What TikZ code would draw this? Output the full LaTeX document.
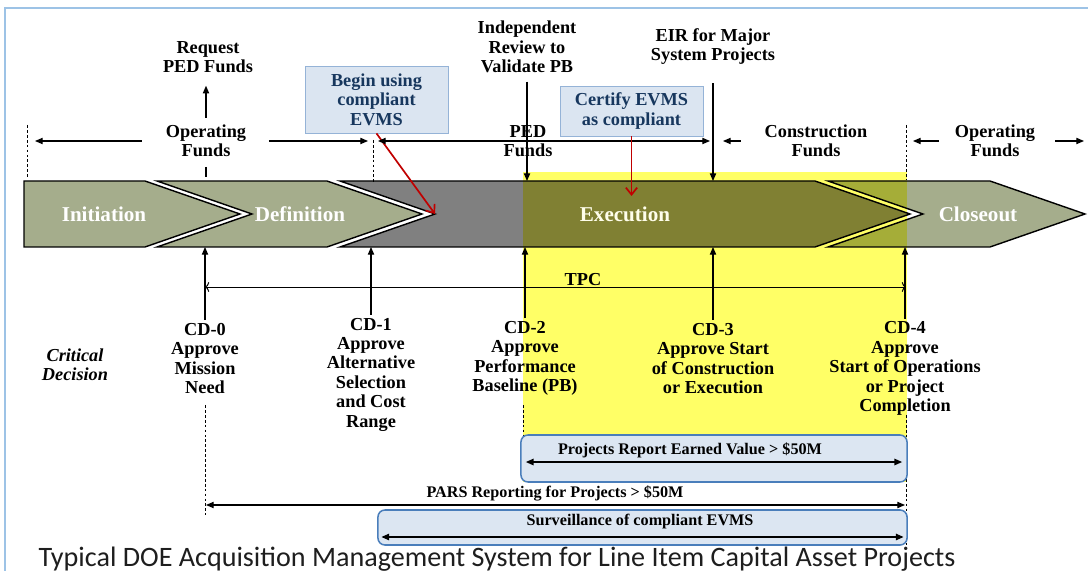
\documentclass[tikz,border=0pt]{standalone}
\usepackage{fontspec}
\setmainfont{Liberation Serif}
\newfontfamily\capfont{Carlito}
\usepackage{tikz}
\usetikzlibrary{arrows.meta,positioning,calc}
\usepackage{xcolor}
\definecolor{phasegreen}{RGB}{165,173,140}
\definecolor{phasegray}{RGB}{128,128,128}
\definecolor{cdyellow}{RGB}{255,255,102}
\definecolor{notefill}{RGB}{219,229,241}
\definecolor{notedraw}{RGB}{149,179,215}
\definecolor{notetext}{RGB}{23,55,94}
\definecolor{barfill}{RGB}{220,230,242}
\definecolor{bardraw}{RGB}{74,126,187}
\definecolor{evmsred}{RGB}{192,0,0}
\definecolor{framecol}{RGB}{157,195,230}
\definecolor{capgray}{RGB}{30,30,30}
\tikzset{
  phase/.style={draw=black,line width=1pt,line join=miter},
  phaselbl/.style={text=white,font=\bfseries\fontsize{15}{18}\selectfont},
  lbl/.style={font=\bfseries\fontsize{13}{13.8}\selectfont,align=center,inner sep=1pt},
  note/.style={rectangle,draw=notedraw,line width=0.6pt,fill=notefill,text=notetext,
    font=\bfseries\fontsize{13}{13.8}\selectfont,align=center,minimum width=3.575cm},
  evbar/.style={rectangle,rounded corners=5pt,draw=bardraw,line width=1.1pt,fill=barfill},
  barlbl/.style={font=\bfseries\fontsize{11.5}{13}\selectfont,inner sep=1pt},
  arrow/.style={->,>={Triangle[length=5.5pt,width=4.5pt]},line width=0.8pt},
  dblarrow/.style={<->,>={Triangle[length=5.5pt,width=4.5pt]},line width=0.8pt},
  tpcline/.style={<->,>={To[length=3pt,width=7pt]},line width=0.7pt},
  redarrow/.style={->,>={Straight Barb[length=5pt,width=8pt]},draw=evmsred,line width=1.2pt},
  guideline/.style={dash pattern=on 2pt off 1.5pt,line width=0.6pt}
}

\begin{document}
\begin{tikzpicture}[x=0.025cm,y=-0.025cm]
  \useasboundingbox (0,0) rectangle (1088,571);
  \clip (0,0) rectangle (1088,571);
  \draw[framecol,line width=1pt] (5,600) |- (1100,8);

  % the phase band
  \coordinate (bandtop) at (0,181);
  \coordinate (bandbot) at (0,247);
  \draw[phase,fill=phasegreen] (24,181) -- (145,181) -- (240,214) -- (145,247) -- (24,247) -- cycle;
  \draw[phase,fill=phasegreen] (157,181) -- (327,181) -- (422,214) -- (327,247) -- (157,247) -- (252,214) -- cycle;
  \draw[phase,fill=phasegray] (340,181) -- (815,181) -- (910,214) -- (815,247) -- (340,247) -- (435,214) -- cycle;
  \draw[phase,fill=phasegreen] (828,181) -- (990,181) -- (1085,214) -- (990,247) -- (828,247) -- (923,214) -- cycle;
  \coordinate (exnotch) at (435,214);

  % execution window
  \begin{scope}[blend mode=multiply]
    \fill[cdyellow] (523,172) rectangle (907,482);
  \end{scope}

  \node[phaselbl] (init)  at (104,214) {Initiation};
  \node[phaselbl] (def)   at (300,214) {Definition};
  \node[phaselbl,text=white!92!yellow] (exec) at (625,214) {Execution};
  \node[phaselbl] (close) at (978,214) {Closeout};

  % funding above the band
  \node[lbl] (opfundsL) at (206,141) {Operating\\Funds};
  \node[lbl] (request)  at (208,57)  {Request\\PED Funds};
  \coordinate (opLend) at (35,141);
  \coordinate (opRend) at (368,141);
  \draw[arrow,shorten <=4pt,shorten >=8pt] (opfundsL.north) -- (opfundsL.north |- request.south);
  \draw[arrow,shorten <=16pt] (opfundsL.west) -- (opLend);
  \draw[arrow,shorten <=15pt] (opfundsL.east) -- (opRend);
  \draw[line width=0.8pt] (206,167) -- (206,177);
  \draw[guideline] (27,125) -- (27,178);

  \node[note,minimum height=1.675cm] (evms) at (376.5,99.5) {Begin using\\compliant\\EVMS};
  \draw[guideline] (373,140) -- (373,183);
  \draw[redarrow] (evms.south) -- (exnotch);

  \coordinate (pedL) at (378,141);
  \coordinate (pedR) at (710,141);
  \draw[dblarrow] (pedL) -- (pedR);
  \node[lbl] (ped) at (528,141) {PED\\Funds};

  \node[lbl] (review) at (527,47) {Independent\\Review to\\Validate PB};
  \draw[arrow,shorten <=5pt] (review.south) -- (review.south |- bandtop);
  \node[lbl] (eir) at (713,46.5) {EIR for Major\\System Projects};
  \draw[arrow,shorten <=12pt] (eir.south) -- (eir.south |- bandtop);

  \node[note,minimum height=1.25cm] (certify) at (631.5,111) {Certify EVMS\\as compliant};
  \coordinate (certtip) at (631.5,196);
  \draw[redarrow] (certify) -- (certtip);

  \node[lbl] (constr) at (816,141) {Construction\\Funds};
  \coordinate (conL) at (723,141);
  \draw[arrow,shorten <=16pt] (constr.west) -- (conL);
  \draw[guideline] (906,125) -- (906,180);

  \node[lbl] (opfundsR) at (995,141) {Operating\\Funds};
  \coordinate (opRL) at (913,141);
  \coordinate (opRR) at (1084,141);
  \draw[arrow,shorten <=10pt] (opfundsR.west) -- (opRL);
  \draw[arrow,shorten <=13pt] (opfundsR.east) -- (opRR);

  % critical decisions
  \node[lbl,font=\bfseries\itshape\fontsize{13}{13.8}\selectfont] (crit) at (75,364.5) {Critical\\Decision};
  \node[lbl] (cd0) at (205,358.5) {CD-0\\Approve\\Mission\\Need};
  \node[lbl] (cd1) at (371,374.5) {CD-1\\Approve\\Alternative\\Selection\\and Cost\\Range};
  \node[lbl] (cd2) at (525,358.5) {CD-2\\Approve\\Performance\\Baseline (PB)};
  \node[lbl] (cd3) at (713,358.5) {CD-3\\Approve Start\\of Construction\\or Execution};
  \node[lbl] (cd4) at (905,368.5) {CD-4\\Approve\\Start of Operations\\or Project\\Completion};
  \foreach \cd in {cd0,cd1,cd2,cd3,cd4}
    \draw[arrow,shorten <=1pt] (\cd.north) -- (\cd.north |- bandbot);

  \coordinate (tpcL) at (205,287);
  \coordinate (tpcR) at (906,287);
  \draw[tpcline] (tpcL) -- (tpcR);
  \node[lbl] (tpc) at (583,280) {TPC};

  \draw[guideline] (205,405) -- (205,515);
  \draw[guideline] (523,405) -- (523,478);
  \draw[guideline] (906,415) -- (906,545);

  % reporting bars
  \node[evbar,minimum width=9.65cm,minimum height=1.175cm] (evbox) at (714,458.5) {};
  \node[barlbl] (evlbl) at (690,450) {Projects Report Earned Value > \$50M};
  \draw[dblarrow,line width=1.1pt] ([shift={(4pt,-2.5pt)}]evbox.west) -- ([shift={(-4pt,-2.5pt)}]evbox.east);

  \coordinate (parsL) at (206,505);
  \coordinate (parsR) at (905,505);
  \draw[dblarrow] (parsL) -- (parsR);
  \node[barlbl] (pars) at (555,493) {PARS Reporting for Projects > \$50M};

  \node[evbar,minimum width=13.225cm,minimum height=0.875cm] (survbox) at (642.5,527.5) {};
  \node[barlbl] (survlbl) at (640,522) {Surveillance of compliant EVMS};
  \draw[dblarrow,line width=1.1pt] ([shift={(3pt,-6.75pt)}]survbox.west) -- ([shift={(-3pt,-6.75pt)}]survbox.east);

  \node[anchor=base,text=capgray,font=\capfont\fontsize{20}{24}\selectfont] (caption) at (497,566)
    {Typical DOE Acquisition Management System for Line Item Capital Asset Projects};
\end{tikzpicture}
\end{document}
